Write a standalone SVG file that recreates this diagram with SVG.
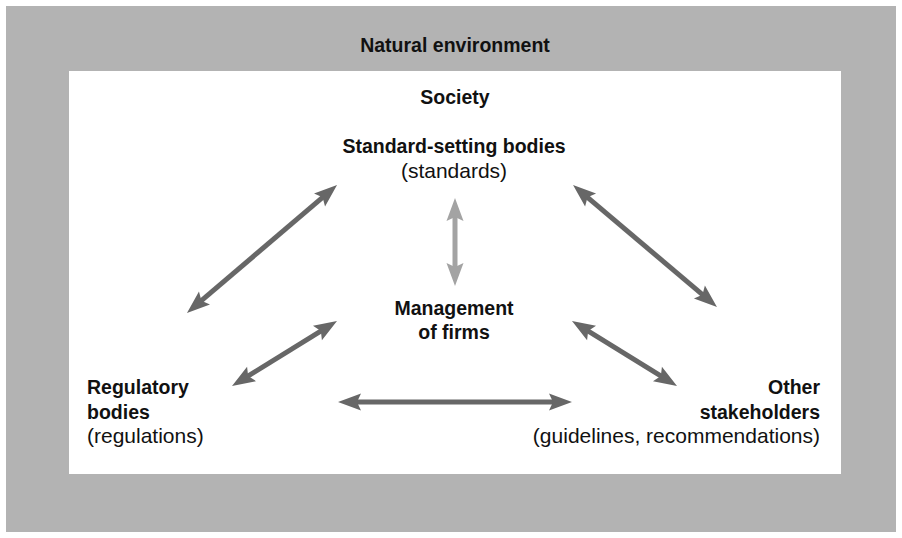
<svg xmlns="http://www.w3.org/2000/svg" width="902" height="538" viewBox="0 0 902 538">
  <style>
    .b { font-family: "Liberation Sans", Arial, sans-serif; font-weight: bold; font-size: 19.5px; fill: #111; }
    .r { font-family: "Liberation Sans", Arial, sans-serif; font-size: 21px; fill: #111; }
    .dk { stroke: #676767; stroke-width: 5; fill: none; marker-start: url(#headDark); marker-end: url(#headDark); }
    .lt { stroke: #a3a3a3; stroke-width: 5; fill: none; marker-start: url(#headLight); marker-end: url(#headLight); }
  </style>
  <defs>
    <marker id="headDark" markerUnits="userSpaceOnUse" viewBox="-12 -10 26 20" markerWidth="26" markerHeight="20" refX="0" refY="0" orient="auto-start-reverse" overflow="visible">
      <path d="M12,0 L-11,-8.5 L-7,0 L-11,8.5 Z" fill="#676767"/>
    </marker>
    <marker id="headLight" markerUnits="userSpaceOnUse" viewBox="-12 -10 26 20" markerWidth="26" markerHeight="20" refX="0" refY="0" orient="auto-start-reverse" overflow="visible">
      <path d="M12,0 L-11,-8.5 L-7,0 L-11,8.5 Z" fill="#a3a3a3"/>
    </marker>
  </defs>

  <g id="natural-environment">
    <rect x="6" y="6" width="890" height="526" fill="#b3b3b3"/>
    <text class="b" x="455" y="52" text-anchor="middle">Natural environment</text>
  </g>

  <g id="society">
    <rect x="69" y="71" width="772" height="403" fill="#ffffff"/>
    <text class="b" x="455" y="104" text-anchor="middle">Society</text>
  </g>

  <g id="standard-setting-bodies">
    <text class="b" x="454" y="153" text-anchor="middle">Standard-setting bodies</text>
    <text class="r" x="454" y="178" text-anchor="middle">(standards)</text>
  </g>

  <g id="management-of-firms">
    <text class="b" x="454" y="315" text-anchor="middle">Management</text>
    <text class="b" x="454" y="339" text-anchor="middle">of firms</text>
  </g>

  <g id="regulatory-bodies">
    <text class="b" x="87" y="394">Regulatory</text>
    <text class="b" x="87" y="419">bodies</text>
    <text class="r" x="87" y="443">(regulations)</text>
  </g>

  <g id="other-stakeholders">
    <text class="b" x="820" y="394" text-anchor="end">Other</text>
    <text class="b" x="820" y="419" text-anchor="end">stakeholders</text>
    <text class="r" x="820" y="443" text-anchor="end">(guidelines, recommendations)</text>
  </g>

  <g id="connectors">
    <line class="dk" x1="327.9" y1="192.8" x2="196.1" y2="305.2"/>
    <line class="lt" x1="455" y1="210" x2="455" y2="274"/>
    <line class="dk" x1="582.2" y1="192.8" x2="707.8" y2="299.2"/>
    <line class="dk" x1="326.8" y1="327.3" x2="242.2" y2="379.7"/>
    <line class="dk" x1="582.2" y1="327.3" x2="666.8" y2="379.7"/>
    <line class="dk" x1="350" y1="402" x2="560" y2="402"/>
  </g>
</svg>
